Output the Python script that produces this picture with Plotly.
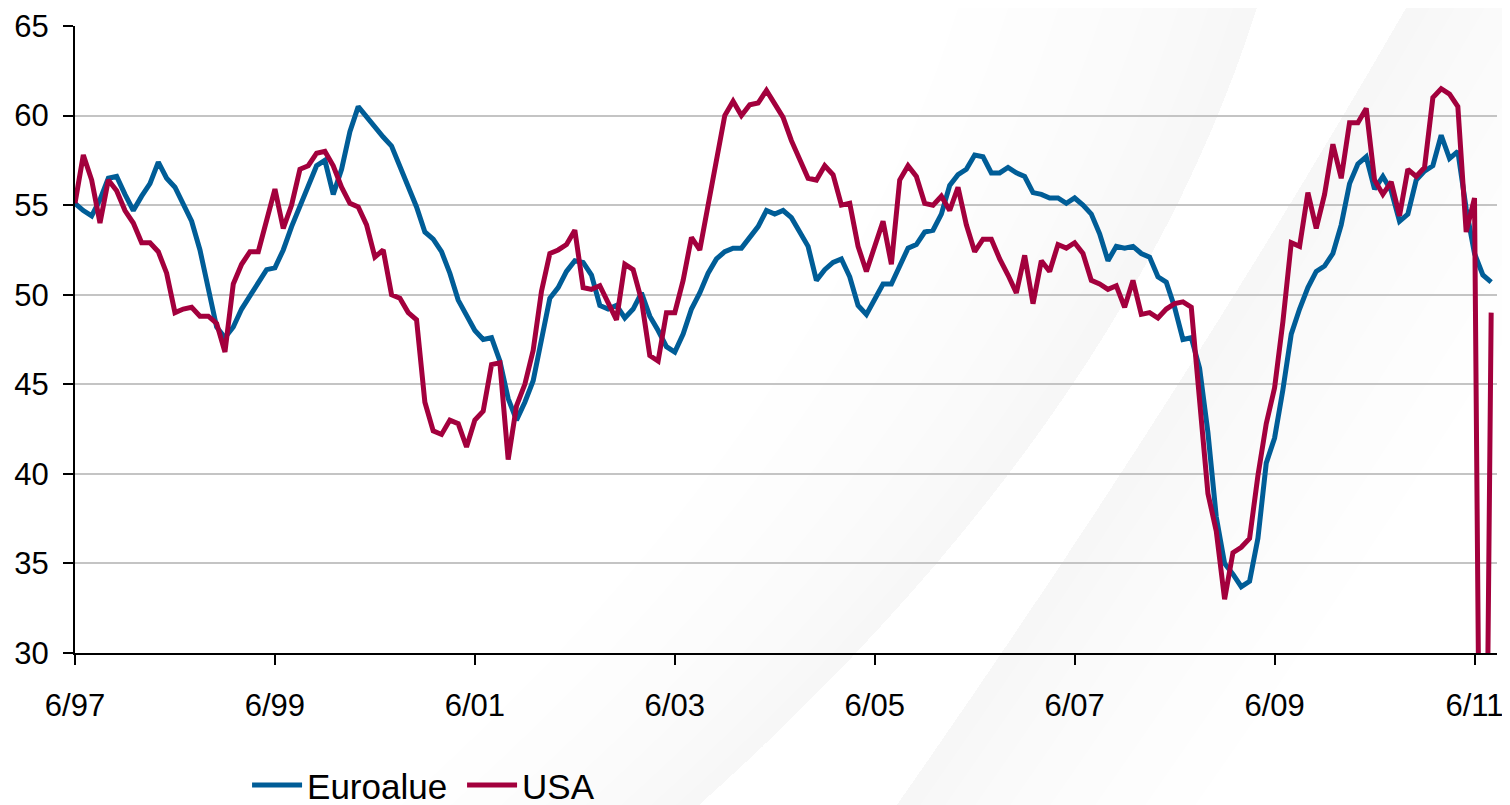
import plotly.graph_objects as go

# ---------------- data ----------------
tick_labels = ["6/97", "6/99", "6/01", "6/03", "6/05", "6/07", "6/09", "6/11"]
tick_months = [0, 24, 48, 72, 96, 120, 144, 168]   # month index from 6/97

euroalue = [
    55.1, 54.7, 54.4, 55.3, 56.5, 56.6, 55.6, 54.7, 55.5, 56.2,
    57.4, 56.5, 56.0, 55.1, 54.1, 52.5, 50.4, 48.2, 47.6, 48.2,
    49.2, 49.9, 50.6, 51.4, 51.5, 52.5, 53.8, 54.9, 56.0, 57.2,
    57.5, 55.6, 57.0, 59.1, 60.5, 59.9, 59.4, 58.8, 58.3, 57.2,
    56.0, 54.9, 53.5, 53.1, 52.4, 51.2, 49.7, 48.8, 48.0, 47.5,
    47.6, 46.3, 44.2, 43.0, 44.0, 45.2, 47.6, 49.8, 50.4, 51.3,
    51.9, 51.8, 51.1, 49.4, 49.2, 49.4, 48.7, 49.2, 50.1, 48.8,
    48.0, 47.1, 46.8, 47.8, 49.2, 50.1, 51.2, 52.0, 52.4, 52.6,
    52.6, 53.2, 53.8, 54.7, 54.5, 54.7, 54.3, 53.5, 52.7, 50.8,
    51.4, 51.8, 52.0, 51.0, 49.4, 48.9, 49.7, 50.6, 50.6, 51.6,
    52.6, 52.8, 53.5, 53.6, 54.5, 56.1, 56.7, 57.0, 57.8, 57.7,
    56.8, 56.8, 57.1, 56.8, 56.6, 55.7, 55.6, 55.4, 55.4, 55.1,
    55.4, 55.0, 54.5, 53.4, 51.9, 52.7, 52.6, 52.7, 52.3, 52.1,
    51.0, 50.7, 49.3, 47.5, 47.6, 45.9, 42.3, 37.6, 35.0, 34.4,
    33.7, 34.0, 36.4, 40.6, 42.0, 44.7, 47.8, 49.2, 50.4, 51.3,
    51.6, 52.3, 53.9, 56.2, 57.3, 57.7, 55.9, 56.6, 55.8, 54.1,
    54.5, 56.4, 56.9, 57.2, 58.9, 57.6, 58.0, 54.8, 52.3, 51.1,
    50.7,
]

usa = [
    55.1, 57.8, 56.4, 54.0, 56.4, 55.8, 54.7, 54.0, 52.9, 52.9,
    52.4, 51.2, 49.0, 49.2, 49.3, 48.8, 48.8, 48.4, 46.8, 50.6,
    51.7, 52.4, 52.4, 54.1, 55.9, 53.7, 55.0, 57.0, 57.2, 57.9,
    58.0, 57.2, 56.0, 55.1, 54.9, 53.9, 52.1, 52.5, 50.0, 49.8,
    49.0, 48.6, 44.0, 42.4, 42.2, 43.0, 42.8, 41.5, 43.0, 43.5,
    46.1, 46.2, 40.8, 43.8, 45.0, 46.9, 50.2, 52.3, 52.5, 52.8,
    53.6, 50.4, 50.3, 50.5, 49.5, 48.6, 51.7, 51.4, 49.7, 46.6,
    46.3, 49.0, 49.0, 50.8, 53.2, 52.5, 55.0, 57.7, 60.0, 60.8,
    60.0, 60.6, 60.7, 61.4, 60.6, 59.9, 58.6, 57.5, 56.5, 56.4,
    57.2, 56.7, 55.0, 55.1, 52.7, 51.3, 52.6, 54.1, 51.7, 56.4,
    57.2, 56.6, 55.1, 55.0, 55.5, 54.7, 56.0, 53.9, 52.4, 53.1,
    53.1, 52.0, 51.1, 50.1, 52.2, 49.5, 51.9, 51.3, 52.8, 52.6,
    52.9, 52.3, 50.8, 50.6, 50.3, 50.5, 49.3, 50.8, 48.9, 49.0,
    48.7, 49.2, 49.5, 49.6, 49.3, 44.0, 38.9, 36.8, 33.0, 35.6,
    35.9, 36.4, 39.9, 42.8, 44.8, 48.5, 52.9, 52.7, 55.7, 53.7,
    55.6, 58.4, 56.5, 59.6, 59.6, 60.4, 56.4, 55.6, 56.3, 54.4,
    57.0, 56.6, 57.1, 61.0, 61.5, 61.2, 60.5, 53.5, 55.4, 0.0,
    49.0,
]

months = list(range(len(euroalue)))

# ---------------- layout geometry ----------------
# the page adds an 8 px body margin, so the figure is 8 px smaller than the window
FIG_W, FIG_H = 1502, 797
M_L, M_R, M_T, M_B = 67, 13, 18, 152
OFF = 8
PLOT_X0 = OFF + M_L                 # page px of plot left
PLOT_Y1 = OFF + FIG_H - M_B         # page px of plot bottom
PW, PH = FIG_W - M_L - M_R, FIG_H - M_T - M_B


def paper(x, y):
    return (x - PLOT_X0) / PW, (PLOT_Y1 - y) / PH


def curve_band(c_a, c_b):
    """closed path between two quadratic curves (each: start, control, end in page px)."""
    p = [paper(*pt) for pt in c_a] + [paper(*pt) for pt in reversed(c_b)]
    return (f"M{p[0][0]:.4f},{p[0][1]:.4f} Q{p[1][0]:.4f},{p[1][1]:.4f} {p[2][0]:.4f},{p[2][1]:.4f} "
            f"L{p[3][0]:.4f},{p[3][1]:.4f} Q{p[4][0]:.4f},{p[4][1]:.4f} {p[5][0]:.4f},{p[5][1]:.4f} Z")


def shifted(curve, dx):
    return [(x + dx, y) for x, y in curve]


# very faint decorative swoosh in the background
C1 = [(700, 805), (1130, 420), (1260, 0)]     # gray fades to the left of this edge
C2 = [(896, 805), (1180, 400), (1410, 0)]     # gray fades to the right of this edge
shapes = []
for d in (25, 50, 80, 115, 155, 200, 250, 300):
    shapes.append(dict(type="path", xref="paper", yref="paper", layer="below",
                       path=curve_band(shifted(C1, -d), C1),
                       fillcolor="rgba(0,0,0,0.0055)", line=dict(width=0)))
for d in (25, 50, 80, 115, 155, 200, 250, 300):
    shapes.append(dict(type="path", xref="paper", yref="paper", layer="below",
                       path=curve_band(C2, shifted(C2, d)),
                       fillcolor="rgba(0,0,0,0.0055)", line=dict(width=0)))

fig = go.Figure()
fig.add_trace(go.Scatter(x=months, y=euroalue, mode="lines", name="Euroalue",
                         line=dict(color="#005d97", width=5)))
fig.add_trace(go.Scatter(x=months, y=usa, mode="lines", name="USA",
                         line=dict(color="#a3003d", width=5)))

font_family = "Liberation Sans, Arial, sans-serif"

fig.update_layout(
    width=FIG_W, height=FIG_H,
    margin=dict(l=M_L, r=M_R, t=M_T, b=M_B, autoexpand=False),
    paper_bgcolor="white", plot_bgcolor="rgba(0,0,0,0)",
    font=dict(family=font_family, size=31, color="black"),
    showlegend=True,
    legend=dict(orientation="h", x=0.121, xanchor="left", y=-0.211, yanchor="middle",
                font=dict(size=35, color="black"), bgcolor="rgba(0,0,0,0)",
                itemwidth=50, entrywidth=150, entrywidthmode="pixels",
                traceorder="normal"),
    shapes=shapes,
)
fig.update_xaxes(range=[0, 170.7], tickmode="array", tickvals=tick_months, ticktext=tick_labels,
                 showgrid=False, zeroline=False, showline=True, linecolor="black", linewidth=2,
                 ticks="outside", ticklen=10, tickwidth=2, tickcolor="black",
                 ticklabelstandoff=14, tickfont=dict(size=31, color="black"))
fig.update_yaxes(range=[30, 65], dtick=5, tick0=30, showgrid=True, gridcolor="#c4c4c4", gridwidth=2,
                 zeroline=False, showline=True, linecolor="black", linewidth=2,
                 ticks="outside", ticklen=10, tickwidth=2, tickcolor="black",
                 ticklabelstandoff=8, tickfont=dict(size=31, color="black"))

fig.write_html("out.html")
